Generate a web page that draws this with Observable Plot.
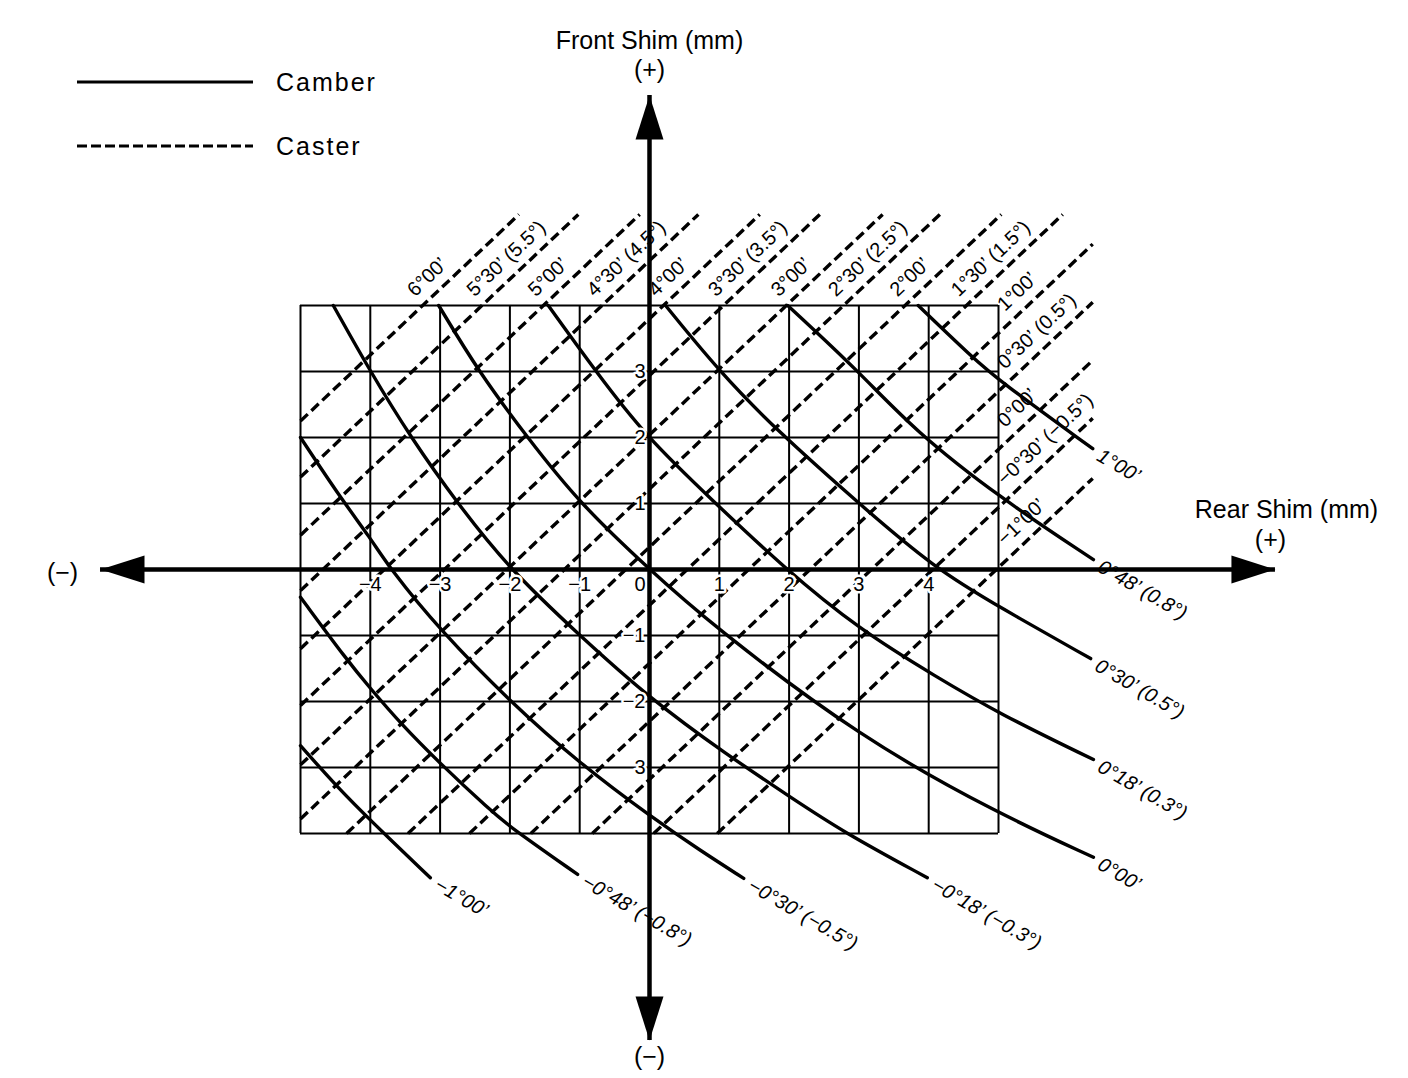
<!DOCTYPE html>
<html>
<head>
<meta charset="utf-8">
<script src="https://cdn.jsdelivr.net/npm/d3@7"></script>
<script src="https://cdn.jsdelivr.net/npm/@observablehq/plot@0.6"></script>
<style>
  html, body { margin: 0; padding: 0; background: #fff; }
  #wrap { position: relative; width: 1408px; height: 1078px; }
  #wrap svg text { font-family: "Liberation Sans", Arial, Helvetica, sans-serif; }
  g[aria-label="caster labels"] text { letter-spacing: 1.5px; }
  g[aria-label="camber labels"] text { letter-spacing: 1.5px; }
  g[aria-label="axis titles"] text { letter-spacing: 1.5px; }
  g[aria-label="tick labels"] text { letter-spacing: 1px; }
</style>
</head>
<body>
<div id="wrap"></div>
<script>
// ---------- data ----------
const gridRear = [-5, -4, -3, -2, -1, 0, 1, 2, 3, 4, 5];
const gridFront = [-4, -3, -2, -1, 0, 1, 2, 3, 4];

const rearTicks = [-4, -3, -2, -1, 0, 1, 2, 3, 4];
const rearTickLabels = ["−4", "−3", "−2", "−1", "0", "1", "2", "3", "4"];
const frontTicks = [3, 2, 1, -1, -2, -3];
const frontTickLabels = ["3", "2", "1", "−1", "−2", "3"];

// axis arrow tips (mm)
const rearAxisEnds = [-7.865, 8.968];
const frontAxisEnds = [-7.136, 7.182];

// caster lines: front = rear + intercept
const casterLabels = ["6°00’", "5°30’ (5.5°)", "5°00’", "4°30’ (4.5°)", "4°00’",
  "3°30’ (3.5°)", "3°00’", "2°30’ (2.5°)", "2°00’", "1°30’ (1.5°)", "1°00’",
  "0°30’ (0.5°)", "0°00’", "−0°30’ (−0.5°)", "−1°00’"];
const casterIntercepts = [7.25, 6.4, 5.52, 4.68, 3.8, 2.94, 2.04, 1.22, 0.34,
  -0.54, -1.42, -2.3, -3.18, -4.06, -4.97];
const casterReachRear = 6.35;
const casterReachFront = 5.38;
const casterLabelRear = 5.2;

// camber curves (rear mm, front mm)
const camberLabels = ["1°00’", "0°48’ (0.8°)", "0°30’ (0.5°)", "0°18’ (0.3°)", "0°00’",
  "−0°18’ (−0.3°)", "−0°30’ (−0.5°)", "−0°48’ (−0.8°)", "−1°00’"];
const camberRear = [
  [3.85, 4.63, 5.0, 6.35],
  [1.98, 3.0, 3.8, 5.03, 6.36],
  [0.23, 1.0, 1.83, 3.0, 4.07, 5.03, 6.32],
  [-1.45, -0.77, -0.04, 0.9, 1.92, 3.02, 4.1, 5.0, 6.36],
  [-3.02, -2.45, -1.75, -1.0, 0, 0.87, 3.02, 5.0, 6.36],
  [-4.53, -4, -3.42, -2.75, -2, -1, 0, 1.1, 2.02, 2.78, 3.98],
  [-5, -4.43, -4, -3.71, -3, -2, -1, 0.04, 0.73, 1.35],
  [-5, -4.33, -4, -3.57, -3, -2.28, -2, -1.03],
  [-5, -4.47, -4, -3.14]
];
const camberFront = [
  [4, 3.21, 2.87, 1.83],
  [4, 3, 2.1, 1.08, 0.15],
  [4, 3, 2.1, 1, 0.03, -0.58, -1.35],
  [4, 3, 2, 1.05, 0.03, -0.92, -1.62, -2.18, -2.88],
  [4, 3, 2, 1, 0, -0.82, -2.55, -3.7, -4.36],
  [4, 3, 2, 1, 0, -1, -1.95, -2.8, -3.45, -3.98, -4.67],
  [2, 1.09, 0.48, 0, -0.92, -2, -2.94, -3.76, -4.26, -4.68],
  [-0.42, -1.38, -1.8, -2.33, -2.94, -3.65, -3.9, -4.62],
  [-2.67, -3.3, -3.8, -4.67]
];

// ---------- layout ----------
const W = 1408, H = 1078;
const KX = 69.8, KY = 66, X0 = 649, Y0 = 569; // px per mm, origin px
const xDomain = [-X0 / KX, (W - X0) / KX];
const yDomain = [(Y0 - H) / KY, Y0 / KY];
const FONT = '"Liberation Sans", Arial, Helvetica, sans-serif';

const theta = Math.atan2(KY, KX);           // caster angle on screen
const thetaDeg = theta * 180 / Math.PI;

const casterSegs = casterIntercepts.map(c => {
  const x1 = Math.max(gridRear[0], gridFront[0] - c);
  const x2 = Math.min(casterReachRear, casterReachFront - c);
  return {x1, y1: x1 + c, x2, y2: x2 + c};
});
const casterText = casterLabels.map((t, i) => {
  const c = casterIntercepts[i];
  const x = Math.min(gridFront[gridFront.length - 1] - c, casterLabelRear);
  return {t, x, y: x + c};
});

const camberPts = camberRear.flatMap((xs, i) =>
  xs.map((x, j) => ({k: i, x, y: camberFront[i][j]})));
const camberText = camberLabels.map((t, i) => {
  const xs = camberRear[i], ys = camberFront[i];
  return {t, x: xs[xs.length - 1], y: ys[ys.length - 1]};
});
const camberRot = 30;
const cr = camberRot * Math.PI / 180;

const xTick = rearTicks.map((v, i) => ({v, t: rearTickLabels[i]}));
const yTick = frontTicks.map((v, i) => ({v, t: frontTickLabels[i]}));

const arrowHead = {
  draw(ctx) {
    const L = 44, w = 14;
    ctx.moveTo(0, 0);
    ctx.lineTo(-w, L);
    ctx.lineTo(w, L);
    ctx.closePath();
  }
};
const tips = [
  {x: 0, y: frontAxisEnds[1], r: 0},
  {x: rearAxisEnds[1], y: 0, r: 90},
  {x: 0, y: frontAxisEnds[0], r: 180},
  {x: rearAxisEnds[0], y: 0, r: 270}
];

const tickStyle = {fontSize: 20, fill: "black", stroke: "white", strokeWidth: 5, ariaLabel: "tick labels"};
const titleStyle = {fontSize: 25, fill: "black", lineAnchor: "bottom", ariaLabel: "axis titles"};

const chart = Plot.plot({
  width: W,
  height: H,
  margin: 0,
  x: {domain: xDomain, axis: null},
  y: {domain: yDomain, axis: null},
  style: {background: "white", fontFamily: FONT, overflow: "visible"},
  marks: [
    // grid
    Plot.ruleX(gridRear, {y1: gridFront[0], y2: gridFront[gridFront.length - 1], stroke: "black", strokeWidth: 2}),
    Plot.ruleY(gridFront, {x1: gridRear[0], x2: gridRear[gridRear.length - 1], stroke: "black", strokeWidth: 2}),
    // caster lines
    Plot.link(casterSegs, {x1: "x1", y1: "y1", x2: "x2", y2: "y2", stroke: "black",
      strokeWidth: 3.4, strokeDasharray: "10,5"}),
    // camber curves
    Plot.line(camberPts, {x: "x", y: "y", z: "k", curve: "basis", stroke: "black", strokeWidth: 3.4}),
    // tick labels with white halo
    Plot.text(xTick.filter(d => d.v !== 0), {x: "v", y: 0, text: "t", dy: 15, textAnchor: "middle", ...tickStyle}),
    Plot.text(xTick.filter(d => d.v === 0), {x: "v", y: 0, text: "t", dy: 15, dx: -4, textAnchor: "end", ...tickStyle}),
    Plot.text(yTick, {x: 0, y: "v", text: "t", dx: -4, textAnchor: "end", ...tickStyle}),
    // axes
    Plot.ruleY([0], {x1: rearAxisEnds[0], x2: rearAxisEnds[1], stroke: "black", strokeWidth: 4.5}),
    Plot.ruleX([0], {y1: frontAxisEnds[0], y2: frontAxisEnds[1], stroke: "black", strokeWidth: 4.5}),
    Plot.dot(tips, {x: "x", y: "y", rotate: "r", symbol: arrowHead, fill: "black", stroke: "none"}),
    // caster labels
    Plot.text(casterText, {x: "x", y: "y", text: "t", rotate: -thetaDeg, textAnchor: "start",
      lineAnchor: "bottom", dx: -11 * Math.sin(theta), dy: -11 * Math.cos(theta),
      fontSize: 20, fill: "black", ariaLabel: "caster labels"}),
    // camber labels
    Plot.text(camberText, {x: "x", y: "y", text: "t", rotate: camberRot, textAnchor: "start",
      lineAnchor: "middle", dx: 7 * Math.cos(cr), dy: 7 * Math.sin(cr) + 2,
      fontSize: 20, fontStyle: "italic", fill: "black", ariaLabel: "camber labels"}),
    // axis titles
    Plot.text(["Front Shim (mm)"], {x: 0, y: frontAxisEnds[1], text: d => d, dy: -46, ...titleStyle}),
    Plot.text(["(+)"], {x: 0, y: frontAxisEnds[1], text: d => d, dy: -17, ...titleStyle}),
    Plot.text(["Rear Shim (mm)"], {x: rearAxisEnds[1], y: 0, text: d => d, dx: 11, dy: -52, ...titleStyle}),
    Plot.text(["(+)"], {x: rearAxisEnds[1], y: 0, text: d => d, dx: -5, dy: -22, ...titleStyle}),
    Plot.text(["(−)"], {x: rearAxisEnds[0], y: 0, text: d => d, dx: -38, dy: 11, ...titleStyle}),
    Plot.text(["(−)"], {x: 0, y: frontAxisEnds[0], text: d => d, dy: 25, ...titleStyle})
  ]
});
chart.style.display = "block";
document.getElementById("wrap").appendChild(chart);

// legend (top-left)
const leg = d3.select("#wrap").append("svg")
  .attr("width", 420).attr("height", 180)
  .style("position", "absolute").style("left", "0px").style("top", "0px");
const legendItems = [
  {name: "Camber", dash: null, y: 82},
  {name: "Caster", dash: "10,4", y: 146}
];
legendItems.forEach(d => {
  leg.append("line").attr("x1", 77).attr("x2", 253).attr("y1", d.y).attr("y2", d.y)
    .attr("stroke", "black").attr("stroke-width", 3)
    .attr("stroke-dasharray", d.dash);
  leg.append("text").attr("x", 276).attr("y", d.y + 9)
    .attr("font-size", 25).attr("letter-spacing", "2px")
    .style("font-family", FONT).text(d.name);
});
</script>
</body>
</html>
